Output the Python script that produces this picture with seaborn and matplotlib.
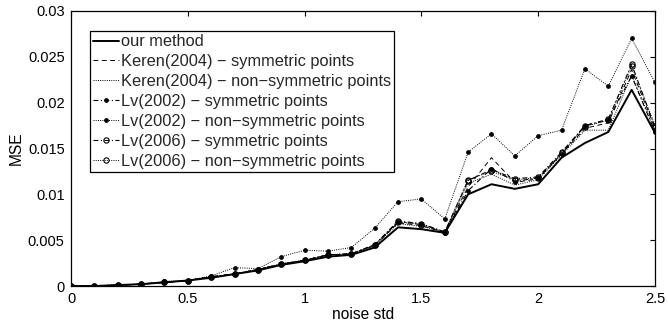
import matplotlib
matplotlib.use("Agg")
import matplotlib.pyplot as plt
import seaborn as sns

noise_std = [0.0, 0.1, 0.2, 0.3, 0.4, 0.5, 0.6, 0.7, 0.8, 0.9, 1.0, 1.1, 1.2,
             1.3, 1.4, 1.5, 1.6, 1.7, 1.8, 1.9, 2.0, 2.1, 2.2, 2.3, 2.4, 2.5]

our_method = [0, 0, 0.0001, 0.0002, 0.0004, 0.0006, 0.0009, 0.0013, 0.0017, 0.0023,
              0.0027, 0.0032, 0.0034, 0.0042, 0.0064, 0.0062, 0.0058, 0.0100, 0.0111,
              0.0106, 0.0111, 0.0140, 0.0156, 0.0168, 0.0214, 0.0167]
keren_sym = [0, 0, 0.0001, 0.0002, 0.0004, 0.0006, 0.0010, 0.0013, 0.0018, 0.0024,
             0.0028, 0.0034, 0.0035, 0.0044, 0.0069, 0.0066, 0.0058, 0.0108, 0.0140,
             0.0113, 0.0117, 0.0144, 0.0172, 0.0178, 0.0236, 0.0172]
keren_nonsym = [0, 0, 0.0001, 0.0002, 0.0004, 0.0006, 0.0010, 0.0013, 0.0018, 0.0024,
                0.0028, 0.0034, 0.0035, 0.0044, 0.0068, 0.0065, 0.0059, 0.0112, 0.0122,
                0.0110, 0.0116, 0.0143, 0.0170, 0.0170, 0.0230, 0.0170]
lv2002_sym = [0, 0, 0.0001, 0.0002, 0.0004, 0.0006, 0.0010, 0.0013, 0.0018, 0.0024,
              0.0028, 0.0034, 0.0035, 0.0045, 0.0070, 0.0068, 0.0058, 0.0104, 0.0128,
              0.0114, 0.0118, 0.0144, 0.0175, 0.0181, 0.0229, 0.0168]
lv2002_nonsym = [0, 0, 0.0001, 0.0002, 0.0005, 0.0006, 0.0011, 0.0020, 0.0019, 0.0032,
                 0.0039, 0.0038, 0.0042, 0.0063, 0.0092, 0.0095, 0.0073, 0.0146, 0.0166,
                 0.0142, 0.0164, 0.0170, 0.0237, 0.0218, 0.0270, 0.0222]
lv2006_sym = [0, 0, 0.0001, 0.0002, 0.0004, 0.0006, 0.0010, 0.0013, 0.0018, 0.0024,
              0.0028, 0.0034, 0.0035, 0.0045, 0.0071, 0.0068, 0.0059, 0.0115, 0.0127,
              0.0117, 0.0119, 0.0146, 0.0175, 0.0182, 0.0242, 0.0173]
lv2006_nonsym = [0, 0, 0.0001, 0.0002, 0.0004, 0.0006, 0.0010, 0.0013, 0.0018, 0.0024,
                 0.0028, 0.0034, 0.0035, 0.0045, 0.0070, 0.0067, 0.0059, 0.0116, 0.0125,
                 0.0116, 0.0118, 0.0145, 0.0174, 0.0181, 0.0240, 0.0175]

labels = ["our method",
          "Keren(2004) \u2212 symmetric points",
          "Keren(2004) \u2212 non\u2212symmetric points",
          "Lv(2002) \u2212 symmetric points",
          "Lv(2002) \u2212 non\u2212symmetric points",
          "Lv(2006) \u2212 symmetric points",
          "Lv(2006) \u2212 non\u2212symmetric points"]

x_ticks = [0, 0.5, 1, 1.5, 2, 2.5]
x_ticklabels = ["0", "0.5", "1", "1.5", "2", "2.5"]
y_ticks = [0, 0.005, 0.01, 0.015, 0.02, 0.025, 0.03]
y_ticklabels = ["0", "0.005", "0.01", "0.015", "0.02", "0.025", "0.03"]

sns.set_theme(style="white")
plt.rcParams["font.family"] = ["Liberation Sans", "DejaVu Sans"]
plt.rcParams["lines.scale_dashes"] = False

fig = plt.figure(figsize=(6.68, 3.21), dpi=100)
ax = fig.add_axes([71 / 668, 1 - 286 / 321, 584 / 668, 275 / 321])

dash = (0, (3.5, 2.5))
dot = (0, (0.7, 0.9))
dashdot = (0, (3.5, 1.8, 0.8, 1.8))

styles = [
    dict(y=our_method, linestyle="-", lw=1.4, marker=None),
    dict(y=keren_sym, linestyle=dash, lw=0.7, marker=None),
    dict(y=keren_nonsym, linestyle=dot, lw=0.7, marker=None),
    dict(y=lv2002_sym, linestyle=dashdot, lw=0.8, marker="o", ms=2.6, mfc="black"),
    dict(y=lv2002_nonsym, linestyle=dot, lw=0.7, marker="o", ms=2.6, mfc="black"),
    dict(y=lv2006_sym, linestyle=dashdot, lw=0.8, marker="o", ms=3.8, mfc="none"),
    dict(y=lv2006_nonsym, linestyle=dot, lw=0.7, marker="o", ms=3.8, mfc="none"),
]

for lab, st in zip(labels, styles):
    kws = dict(color="black", linestyle=st["linestyle"], linewidth=st["lw"])
    if st["marker"]:
        kws.update(marker=st["marker"], markersize=st["ms"],
                   markerfacecolor=st["mfc"], markeredgecolor="black",
                   markeredgewidth=0.8)
    sns.lineplot(x=noise_std, y=st["y"], ax=ax, label=lab, **kws)

ax.set_xlim(0, 2.5)
ax.set_ylim(0, 0.03)
ax.set_xticks(x_ticks)
ax.set_xticklabels(x_ticklabels)
ax.set_yticks(y_ticks)
ax.set_yticklabels(y_ticklabels)
ax.tick_params(direction="in", length=3.5, width=0.8, top=True, right=True,
               labelsize=10.5, colors="black", pad=4.5)
for s in ax.spines.values():
    s.set_color("black")
    s.set_linewidth(0.9)
ax.set_xlabel("noise std", fontsize=11.2, labelpad=0.5, color="black")
ax.set_ylabel("MSE", fontsize=11.2, labelpad=3, color="black")

leg = ax.legend(loc="upper left", bbox_to_anchor=(19 / 584, 255 / 275),
                borderaxespad=0, fontsize=11.8, handlelength=1.55,
                handletextpad=0.12, labelspacing=0.3, borderpad=0.2,
                frameon=True, fancybox=False, framealpha=1, edgecolor="black")
leg.get_frame().set_linewidth(0.9)

fig.savefig("out.png", dpi=100)
